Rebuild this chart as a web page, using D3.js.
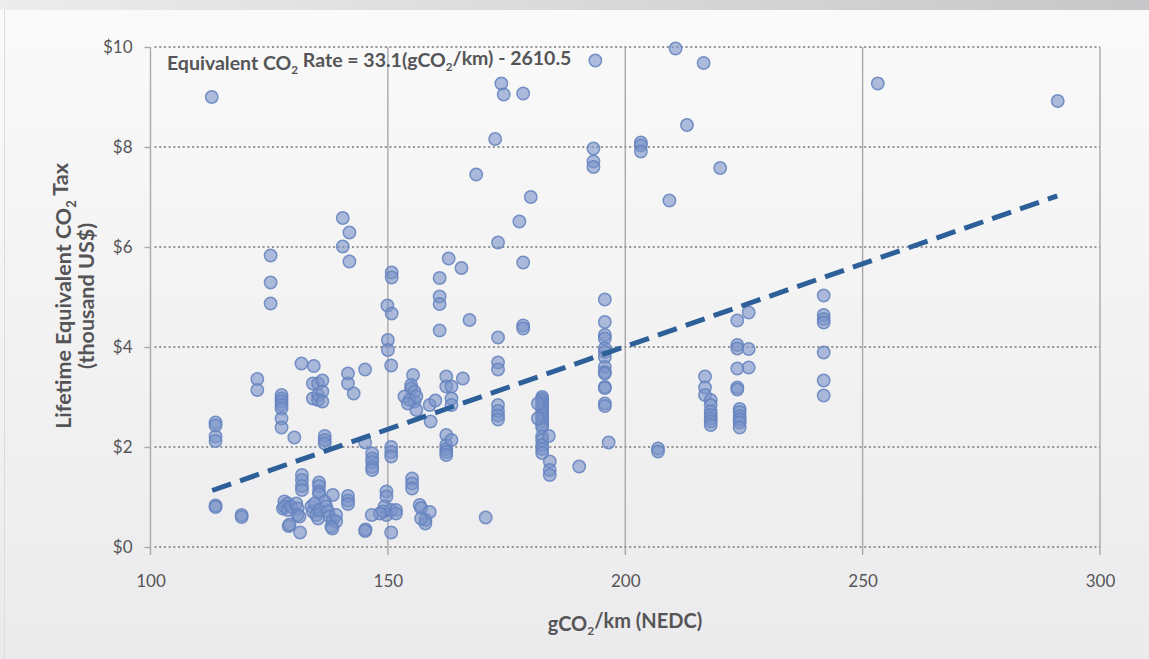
<!DOCTYPE html>
<html>
<head>
<meta charset="utf-8">
<script src="https://cdn.jsdelivr.net/npm/d3@7"></script>
<style>
  body { margin: 0; background: #ffffff; }
  svg { display: block; }
</style>
</head>
<body>
<div id="chart"></div>
<script>
// vehicle gCO2/km (NEDC) and lifetime CO2 tax (thousand US$)
let co2 = [
  112.9, 113.7, 113.7, 113.7, 113.7, 113.7, 113.7,
  119.2, 119.2, 122.5, 122.5, 125.3, 125.3, 125.3,
  127.6, 127.6, 127.6, 127.6, 127.6, 127.6, 127.6,
  130.3, 131.8, 131.9, 131.9, 131.9, 131.9, 134.4,
  134.2, 135.3, 136.2, 134.2, 135.3, 136.2, 135.3, 136.2,
  136.7, 136.7, 136.7, 135.5, 135.5, 135.5, 135.5, 138.4,
  140.5, 140.5, 141.9, 141.9, 141.6, 141.6, 142.8, 145.2, 145.2,
  141.6, 141.6, 141.6, 146.7, 146.7, 146.7, 146.7, 146.7,
  149.9, 150.8, 150.8, 150.8, 150.0, 150.0, 150.7, 150.7, 150.7, 150.7,
  155.3, 154.9, 154.9, 155.6, 155.6, 153.5, 154.6, 156.0, 156.0, 154.2,
  155.1, 155.1, 155.1, 156.7, 157.0, 158.8, 157.9, 157.9, 157.0,
  158.8, 160.0, 159.0, 160.9, 160.9, 160.9, 160.9,
  162.3, 162.3, 163.4, 163.4, 163.4, 165.8,
  162.3, 162.3, 162.3, 162.3, 162.3, 163.4,
  162.8, 165.5, 167.2, 168.6, 170.6,
  172.6, 173.2, 173.2, 173.2, 173.2, 173.2, 173.2, 173.2, 173.2, 173.9, 174.4,
  177.7, 178.5, 178.5, 178.5, 178.5, 180.1,
  182.5, 182.5, 182.5, 182.5, 182.5, 182.5, 182.5, 182.5, 182.5, 182.5, 182.5, 182.5,
  181.6, 181.6, 182.5, 182.5, 182.5, 182.5, 182.5, 183.9,
  184.1, 184.1, 184.1, 190.3, 193.7, 193.3, 193.3, 193.3,
  195.7, 195.7, 195.7, 195.7, 195.7, 195.7, 195.7, 195.7, 195.7, 195.7, 195.7, 195.7, 195.7, 195.7,
  196.5, 203.3, 203.3, 203.3, 206.9, 206.9,
  209.3, 210.6, 213.0, 216.5, 220.0,
  216.8, 216.8, 216.8, 218.0, 218.0, 218.0, 218.0, 218.0, 218.0, 218.0,
  223.6, 223.6, 223.6, 223.6, 223.6, 223.6, 224.1, 224.1, 224.1, 224.1, 224.1, 224.1,
  226.0, 226.0, 226.0,
  241.8, 241.8, 241.8, 241.8, 241.8, 241.8, 241.8,
  253.2, 291.1,
  128.2, 128.9, 127.9, 128.2, 128.9, 129.6, 130.7, 131.0, 131.0, 131.4, 129.1, 129.3, 131.5,
  133.9, 134.2, 134.6, 134.9, 135.3, 135.6, 136.7, 137.0, 137.4, 137.7, 138.4, 139.1, 139.1, 138.1, 138.3,
  149.7, 149.7, 149.7, 149.3, 149.0, 150.7, 151.7, 151.7, 148.3, 146.6, 145.3, 145.2, 150.7
];
let tax = [
  9.00, 2.49, 2.43, 2.21, 2.12, 0.83, 0.80,
  0.64, 0.60, 3.36, 3.14, 5.83, 5.29, 4.87,
  3.04, 2.97, 2.91, 2.84, 2.77, 2.57, 2.39,
  2.19, 3.67, 1.44, 1.34, 1.22, 1.14, 3.62,
  3.27, 3.27, 3.33, 2.97, 3.04, 3.11, 2.94, 2.91,
  2.22, 2.14, 2.07, 1.29, 1.22, 1.11, 1.06, 1.04,
  6.58, 6.01, 6.29, 5.71, 3.47, 3.27, 3.07, 3.55, 2.09,
  1.02, 0.93, 0.86, 1.87, 1.77, 1.70, 1.60, 1.54,
  4.83, 5.49, 5.39, 4.67, 4.14, 3.94, 3.63, 2.00, 1.90, 1.81,
  3.44, 3.24, 3.17, 3.11, 2.91, 3.01, 2.94, 3.01, 2.74, 2.87,
  1.37, 1.27, 1.17, 0.84, 0.78, 0.70, 0.54, 0.47, 0.57,
  2.84, 2.93, 2.51, 5.38, 5.01, 4.86, 4.33,
  3.41, 3.21, 3.21, 2.97, 2.84, 3.37,
  2.24, 2.04, 1.96, 1.90, 1.84, 2.14,
  5.77, 5.58, 4.54, 7.45, 0.59,
  8.16, 6.09, 4.19, 3.69, 3.55, 2.84, 2.72, 2.63, 2.55, 9.27, 9.05,
  6.51, 9.07, 5.69, 4.43, 4.37, 7.00,
  3.00, 2.96, 2.92, 2.87, 2.82, 2.76, 2.70, 2.63, 2.57, 2.51, 2.45, 2.39,
  2.87, 2.57, 2.21, 2.14, 2.04, 1.96, 1.88, 2.22,
  1.71, 1.54, 1.44, 1.61, 9.73, 7.97, 7.71, 7.60,
  4.95, 4.50, 4.24, 4.17, 3.97, 3.90, 3.80, 3.60, 3.50, 3.47, 3.20, 3.18, 2.87, 2.82,
  2.09, 8.09, 8.03, 7.91, 1.97, 1.91,
  6.93, 9.97, 8.44, 9.68, 7.58,
  3.41, 3.19, 3.04, 2.94, 2.84, 2.71, 2.64, 2.57, 2.51, 2.44,
  4.53, 4.04, 3.97, 3.57, 3.19, 3.15, 2.76, 2.70, 2.62, 2.55, 2.49, 2.39,
  4.69, 3.96, 3.59,
  5.03, 4.64, 4.56, 4.49, 3.89, 3.33, 3.03,
  9.27, 8.92,
  0.91, 0.87, 0.77, 0.81, 0.74, 0.81, 0.87, 0.77, 0.64, 0.61, 0.42, 0.45, 0.29,
  0.81, 0.71, 0.87, 0.64, 0.57, 0.74, 0.91, 0.81, 0.71, 0.61, 0.54, 0.64, 0.51, 0.41, 0.37,
  1.11, 1.01, 0.64, 0.81, 0.71, 0.74, 0.74, 0.67, 0.67, 0.64, 0.35, 0.32, 0.29
];

let xTicks = [100, 150, 200, 250, 300];
let yTicks = [0, 2, 4, 6, 8, 10];
// fitted line: $ = 33.1 * gCO2/km - 2610.5
let slope = 33.1;
let intercept = -2610.5;
let fitRange = [113, 291];

let width = 1149;
let height = 659;
let fontFam = "Lato, 'Open Sans', sans-serif";
let textCol = "#555557";

let svg = d3.select("#chart").append("svg")
  .attr("width", width)
  .attr("height", height);

let defs = svg.append("defs");
let bg = defs.append("linearGradient").attr("id", "bg")
  .attr("x1", 0).attr("y1", 0).attr("x2", 0).attr("y2", 1);
bg.append("stop").attr("offset", "0%").attr("stop-color", "#fafafa");
bg.append("stop").attr("offset", "100%").attr("stop-color", "#ebebed");
let band = defs.append("linearGradient").attr("id", "band")
  .attr("x1", 0).attr("y1", 0).attr("x2", 1).attr("y2", 0);
band.append("stop").attr("offset", "0%").attr("stop-color", "#ececec");
band.append("stop").attr("offset", "100%").attr("stop-color", "#c7c7c9");

svg.append("rect").attr("width", width).attr("height", height).attr("fill", "url(#bg)");
svg.append("rect").attr("width", width).attr("height", 10).attr("fill", "url(#band)");
svg.append("line").attr("x1", 4.5).attr("x2", 4.5).attr("y1", 10).attr("y2", height)
  .attr("stroke", "#dcdcdc");

let xScale = d3.scaleLinear().domain([100, 300]).range([150.5, 1100]);
let yScale = d3.scaleLinear().domain([0, 10]).range([547, 47]);

// vertical grid lines (solid) that also act as x ticks
svg.append("g")
  .selectAll("line")
  .data(xTicks)
  .enter()
  .append("line")
  .attr("x1", d => xScale(d)).attr("x2", d => xScale(d))
  .attr("y1", yScale(10)).attr("y2", yScale(0) + 8)
  .attr("stroke", "#a9a9ab")
  .attr("stroke-width", 1.4);

// horizontal dotted grid
svg.append("g")
  .selectAll("line")
  .data(yTicks)
  .enter()
  .append("line")
  .attr("x1", xScale(100) + 4).attr("x2", xScale(300))
  .attr("y1", d => yScale(d)).attr("y2", d => yScale(d))
  .attr("stroke", "#959597")
  .attr("stroke-width", 2)
  .attr("stroke-dasharray", "2,2.7");

// y axis ticks + labels
let yAxis = d3.axisLeft(yScale)
  .tickValues(yTicks)
  .tickSize(6)
  .tickFormat(d => "$" + d);
let yG = svg.append("g")
  .attr("transform", "translate(" + xScale(100) + ",0)")
  .call(yAxis)
  .attr("font-family", fontFam)
  .attr("font-size", 17);
yG.select(".domain").remove();
yG.selectAll("line").attr("stroke", "#a9a9ab").attr("stroke-width", 1.4);
yG.selectAll("text").attr("x", -18).attr("dy", "0.35em").attr("fill", textCol);

// x axis labels
let xAxis = d3.axisBottom(xScale).tickValues(xTicks).tickSize(0);
let xG = svg.append("g")
  .attr("transform", "translate(0," + (yScale(0) + 25) + ")")
  .call(xAxis)
  .attr("font-family", fontFam)
  .attr("font-size", 17);
xG.select(".domain").remove();
xG.selectAll("text").attr("dy", "0.7em").attr("fill", textCol);

// titles with subscripts
function sub(t, s) {
  t.append("tspan").attr("font-size", "0.6em").attr("dy", "0.35em").text(s);
}
function unsub(t, s) {
  t.append("tspan").attr("dy", "-0.35em").text(s);
}

let xt = svg.append("text")
  .attr("x", 625).attr("y", 631)
  .attr("text-anchor", "middle")
  .attr("font-family", fontFam).attr("font-weight", "bold")
  .attr("font-size", 20).attr("fill", textCol);
xt.append("tspan").text("gCO");
sub(xt, "2");
unsub(xt, "/km (NEDC)");

let yt = svg.append("g").attr("transform", "translate(71,296)rotate(-90)")
  .attr("font-family", fontFam).attr("font-weight", "bold")
  .attr("font-size", 21.5).attr("fill", textCol)
  .attr("text-anchor", "middle");
let yt1 = yt.append("text");
yt1.append("tspan").text("Lifetime Equivalent CO");
sub(yt1, "2");
unsub(yt1, " Tax");
yt.append("text")
  .attr("y", 23)
  .text("(thousand US$)");

let eq = svg.append("text")
  .attr("x", 167).attr("y", 70)
  .attr("font-family", fontFam).attr("font-weight", "bold")
  .attr("font-size", 19.5).attr("fill", textCol);
eq.append("tspan").text("Equivalent CO");
sub(eq, "2");
unsub(eq, " Rate = 33.1(gCO");
sub(eq, "2");
unsub(eq, "/km) - 2610.5");

// points
let pts = co2.map((c, i) => ({ x: c, y: tax[i] }));
svg.append("g")
  .selectAll("circle")
  .data(pts)
  .enter()
  .append("circle")
  .attr("cx", d => xScale(d.x))
  .attr("cy", d => yScale(d.y))
  .attr("r", 6.2)
  .attr("fill", "rgba(122,146,200,0.6)")
  .attr("stroke", "rgba(100,130,190,0.85)")
  .attr("stroke-width", 1.5);

// regression line
let fitLine = d3.line()
  .x(d => xScale(d))
  .y(d => yScale((slope * d + intercept) / 1000));
svg.append("path")
  .datum(fitRange)
  .attr("d", fitLine)
  .attr("fill", "none")
  .attr("stroke", "#2d5f98")
  .attr("stroke-width", 5)
  .attr("stroke-dasharray", "20,9.5");
</script>
</body>
</html>
